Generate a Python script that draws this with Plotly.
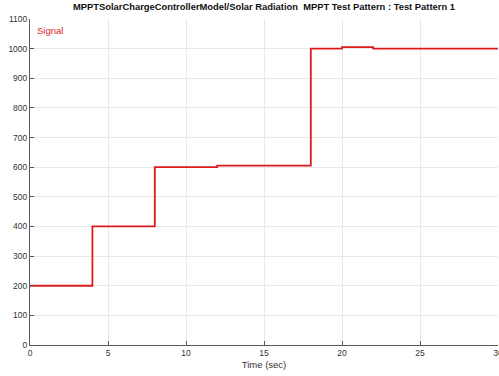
import plotly.graph_objects as go

# Solar radiation test pattern: breakpoints (sec) and level held from each one
time_s = [0, 4, 8, 12, 18, 20, 22, 30]
radiation = [200, 400, 600, 605, 1000, 1005, 1000, 1000]

x_ticks = [0, 5, 10, 15, 20, 25, 30]
y_ticks = [0, 100, 200, 300, 400, 500, 600, 700, 800, 900, 1000, 1100]

FONT = "Liberation Sans, Arial, sans-serif"
RED = "#dc1c1c"

fig = go.Figure()
fig.add_trace(go.Scatter(
    x=time_s, y=radiation, mode="lines", line_shape="hv",
    line=dict(color=RED, width=1.8), name="Signal", showlegend=False,
))

axis_common = dict(
    showline=True, linecolor="#5a5a5a", linewidth=1,
    ticks="inside", ticklen=4, tickcolor="#5a5a5a",
    showgrid=True, gridcolor="#e9e9e9", gridwidth=1,
    zeroline=False, tickfont=dict(family=FONT, size=8.5, color="#333333"),
    ticklabeloverflow="allow", automargin=False,
)

fig.update_xaxes(range=[0, 30], tickvals=x_ticks, **axis_common,
                 title=dict(text="Time (sec)", font=dict(family=FONT, size=9.5, color="#333333"),
                            standoff=4))
fig.update_yaxes(range=[0, 1100], tickvals=y_ticks, **axis_common)

fig.add_annotation(x=0, y=1, xref="paper", yref="paper", xanchor="left", yanchor="top",
                   xshift=5, yshift=-4, text="Signal", showarrow=False,
                   font=dict(family=FONT, size=9.5, color=RED))

fig.update_layout(
    width=499, height=376,
    margin=dict(l=30, r=1, t=19, b=31),
    paper_bgcolor="white", plot_bgcolor="white",
    title=dict(text="<b>MPPTSolarChargeControllerModel/Solar Radiation  MPPT Test Pattern : Test Pattern 1</b>",
               x=0.529, xanchor="center", y=0.99, yanchor="top",
               font=dict(family=FONT, size=9.4, color="#111111")),
)

fig.write_html("out.html")
